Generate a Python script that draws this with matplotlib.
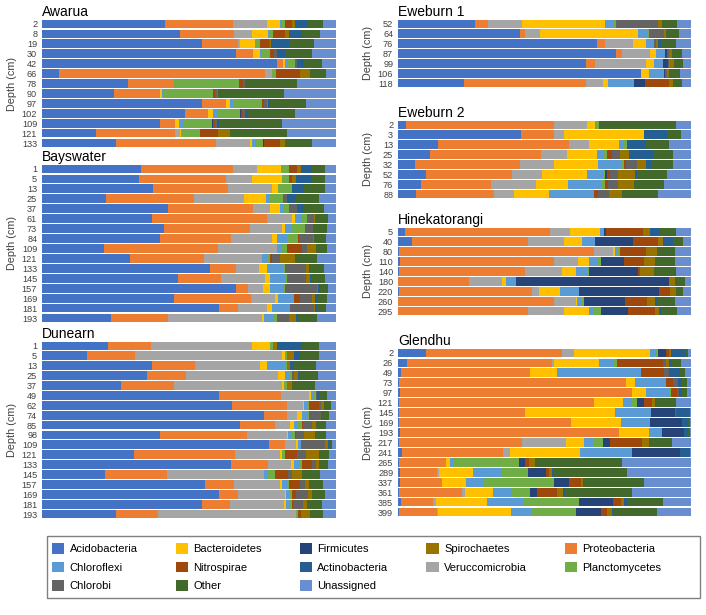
import matplotlib

matplotlib.use("Agg")

import matplotlib.pyplot as plt
import numpy as np
from matplotlib.patches import Patch, Rectangle

plt.rcParams["font.family"] = ["Liberation Sans", "DejaVu Sans"]

# stacking order inside every bar
TAXA = ["Acidobacteria", "Proteobacteria", "Veruccomicrobia", "Bacteroidetes",
        "Chloroflexi", "Planctomycetes", "Firmicutes", "Nitrospirae", "Chlorobi",
        "Spirochaetes", "Actinobacteria", "Other", "Unassigned"]
COLORS = {
    "Acidobacteria": "#4472C4", "Proteobacteria": "#ED7D31", "Veruccomicrobia": "#A5A5A5",
    "Bacteroidetes": "#FFC000", "Chloroflexi": "#5B9BD5", "Planctomycetes": "#70AD47",
    "Firmicutes": "#264478", "Nitrospirae": "#9E480E", "Chlorobi": "#636363",
    "Spirochaetes": "#997300", "Actinobacteria": "#255E91", "Other": "#43682B",
    "Unassigned": "#698ED0",
}
# legend reading order (row by row in a 5-column box)
LEGEND_ORDER = ["Acidobacteria", "Chloroflexi", "Chlorobi", "Bacteroidetes", "Nitrospirae",
                "Other", "Firmicutes", "Actinobacteria", "Unassigned", "Spirochaetes",
                "Veruccomicrobia", "Proteobacteria", "Planctomycetes"]

awarua_depths = [2, 8, 19, 30, 42, 66, 78, 90, 97, 102, 109, 121, 133]
awarua = [
    [41.9, 23.2, 11.6, 4.2, 0.6, 1.3, 0, 2.1, 0, 1.1, 4.2, 5.3, 4.5],
    [47.0, 18.2, 6.3, 5.3, 0.3, 1.5, 0, 4.2, 0, 1.2, 4.5, 6.0, 5.5],
    [54.4, 12.3, 0.6, 5.0, 0, 2.0, 0, 2.9, 0.5, 0.3, 6.0, 8.5, 7.5],
    [66.1, 5.7, 0, 2.2, 0.8, 2.9, 0, 1.2, 0.9, 0, 3.0, 8.9, 8.3],
    [79.8, 2.2, 0, 0.8, 0.8, 2.3, 0, 0, 0.9, 0, 2.3, 6.0, 4.9],
    [5.7, 70.0, 2.4, 0, 0, 1.4, 0, 8.1, 0, 3.5, 0, 5.6, 3.3],
    [29.1, 15.9, 0, 0, 0, 21.9, 0, 1.5, 0.8, 0, 0, 17.6, 13.2],
    [24.5, 15.7, 0, 0.6, 0.3, 16.9, 0, 1.0, 0.5, 0.4, 0, 22.5, 17.6],
    [54.4, 8.3, 0, 1.4, 1.1, 9.7, 0, 0.6, 1.1, 0.4, 0.6, 12.3, 10.2],
    [48.5, 8.1, 0, 1.6, 1.8, 7.5, 0.3, 0.6, 0.8, 0, 0.7, 16.1, 14.0],
    [40.2, 5.0, 0, 1.5, 1.5, 9.6, 0.3, 0.8, 0.6, 0, 0.7, 21.3, 18.5],
    [18.4, 26.9, 1.7, 0.3, 0.3, 5.9, 0.3, 5.8, 0, 4.3, 0, 19.1, 16.8],
    [25.1, 34.0, 11.5, 0.7, 1.3, 2.6, 0.2, 5.7, 0, 1.4, 0, 9.2, 8.3],
]

bayswater_depths = [1, 5, 13, 25, 37, 61, 73, 84, 109, 121, 133, 145, 157, 169, 181, 193]
bayswater = [
    [33.8, 31.3, 7.9, 8.3, 0, 2.6, 0, 2.9, 0, 1.4, 3.7, 4.2, 3.9],
    [33.1, 29.4, 8.8, 10.5, 0, 2.3, 0, 1.0, 0, 1.2, 5.6, 4.2, 3.9],
    [37.6, 25.8, 14.7, 2.1, 0, 4.8, 0, 0, 0, 0, 4.0, 7.1, 3.9],
    [21.8, 29.8, 17.0, 7.7, 1.4, 4.3, 0, 0, 1.5, 0, 2.9, 7.8, 5.8],
    [42.7, 29.1, 5.6, 3.7, 1.3, 1.7, 0, 0, 2.5, 0, 2.4, 6.8, 4.2],
    [37.5, 39.1, 8.5, 1.0, 2.4, 1.5, 0, 0, 2.5, 0.2, 0, 4.6, 2.7],
    [41.6, 29.3, 10.9, 1.0, 2.1, 4.4, 0, 0, 2.9, 0, 0, 4.6, 3.2],
    [40.2, 24.2, 13.7, 1.7, 3.4, 3.8, 0, 0.4, 4.8, 0.3, 0, 4.0, 3.5],
    [21.1, 38.6, 20.1, 0.3, 1.6, 1.8, 0, 5.0, 1.8, 2.8, 0, 3.7, 3.2],
    [30.0, 25.2, 19.7, 0, 1.9, 0.7, 0, 0.6, 3.0, 4.8, 0, 7.5, 6.6],
    [57.3, 8.7, 7.8, 2.8, 5.8, 0.3, 0, 0, 7.2, 1.0, 0.4, 4.6, 4.1],
    [46.4, 14.4, 15.2, 1.7, 5.3, 0.3, 0, 0, 6.6, 1.2, 0.5, 4.5, 3.9],
    [66.1, 3.9, 5.1, 2.4, 4.9, 0.2, 0.2, 0, 10.6, 0.5, 0.7, 2.7, 2.7],
    [45.0, 25.9, 8.2, 1.1, 5.0, 0.3, 0, 2.2, 4.2, 0.7, 0.7, 3.4, 3.2],
    [59.9, 6.6, 9.5, 2.0, 5.8, 0.3, 0, 0, 7.9, 0.5, 0.7, 2.8, 3.5],
    [23.5, 19.3, 31.9, 0.9, 3.3, 1.1, 0, 0, 4.1, 2.4, 0.3, 6.8, 6.4],
]

dunearn_depths = [1, 5, 13, 25, 37, 49, 62, 74, 85, 98, 109, 121, 133, 145, 157, 169, 181, 193]
dunearn = [
    [22.4, 14.8, 34.1, 6.4, 0, 0.9, 0, 0, 0, 1.4, 8.5, 5.8, 5.7],
    [15.2, 16.5, 49.8, 1.3, 0, 0.6, 0, 0, 0, 2.3, 2.1, 6.3, 5.9],
    [37.5, 14.7, 22.1, 2.3, 6.5, 0.3, 0, 0, 0, 0.9, 1.4, 7.4, 6.9],
    [35.7, 13.2, 31.3, 2.6, 1.7, 0.6, 0, 0, 0.6, 1.3, 0.5, 6.5, 6.0],
    [27.0, 18.0, 36.8, 0.6, 0, 1.0, 0, 0, 0, 1.7, 0, 7.6, 7.3],
    [60.3, 21.0, 9.4, 0.7, 1.2, 0.7, 0, 0, 0.3, 0, 0.6, 2.8, 3.0],
    [64.7, 18.8, 5.3, 0.4, 1.1, 0.6, 0, 3.2, 0.9, 0.9, 0, 2.3, 1.8],
    [75.5, 7.9, 3.5, 1.6, 2.0, 0.3, 0, 0, 4.0, 0, 0.2, 2.6, 2.4],
    [67.3, 11.9, 5.1, 1.4, 1.5, 1.3, 0, 0.2, 3.2, 1.2, 0, 3.6, 3.3],
    [40.0, 29.8, 13.4, 0.5, 1.4, 0.8, 0, 0.4, 2.9, 3.5, 0, 3.8, 3.5],
    [77.2, 5.4, 3.9, 0.6, 1.1, 0, 0, 0, 7.9, 1.3, 0.2, 1.2, 1.2],
    [31.4, 34.2, 15.5, 0.5, 0, 1.0, 0, 4.2, 2.9, 4.5, 0, 3.4, 2.4],
    [64.3, 12.6, 7.9, 1.0, 1.8, 0.9, 0, 3.4, 1.2, 1.1, 0, 3.2, 2.6],
    [21.3, 21.2, 33.1, 0, 1.2, 2.3, 0, 4.7, 1.3, 3.4, 0, 5.9, 5.6],
    [55.5, 9.8, 15.8, 0.7, 1.4, 0.9, 0, 3.6, 1.6, 1.5, 0, 4.8, 4.4],
    [60.3, 6.4, 15.9, 0.5, 1.2, 0.6, 0, 1.5, 4.1, 1.5, 0, 4.1, 3.9],
    [54.5, 9.4, 18.4, 0.6, 1.4, 0.6, 0, 0.5, 3.5, 1.3, 0, 4.9, 4.9],
    [25.1, 14.3, 47.0, 0, 0, 0.8, 0, 0.8, 0, 3.1, 0, 4.6, 4.3],
]

eweburn1_depths = [52, 64, 76, 87, 99, 106, 118]
eweburn1 = [
    [26.4, 4.2, 11.8, 28.4, 3.0, 0.7, 0, 0, 14.4, 1.1, 0, 5.3, 4.7],
    [41.7, 1.6, 5.0, 33.6, 3.4, 0.2, 0, 0, 5.3, 0.7, 0, 4.5, 4.0],
    [67.8, 2.9, 9.4, 4.6, 2.5, 0.3, 0, 0, 0.6, 0.8, 0.9, 5.0, 5.2],
    [74.4, 1.9, 9.7, 2.1, 2.9, 0, 0.7, 0, 0.8, 0.9, 0.2, 3.2, 3.2],
    [64.2, 3.0, 17.5, 2.7, 3.2, 0, 1.7, 0, 0.3, 1.6, 0, 3.2, 2.6],
    [83.0, 0, 0, 2.8, 5.0, 0, 0.3, 0, 0.8, 0.6, 0, 3.8, 3.7],
    [22.6, 41.4, 6.1, 1.6, 9.0, 0, 3.6, 8.1, 0, 1.6, 0, 3.0, 3.0],
]

eweburn2_depths = [2, 3, 13, 25, 32, 52, 76, 88]
eweburn2 = [
    [2.8, 50.5, 11.1, 2.9, 0, 1.2, 0, 0, 0, 0, 0.6, 25.7, 5.2],
    [42.0, 11.2, 3.5, 27.3, 0, 0, 0, 0, 0, 0, 7.7, 4.8, 3.5],
    [13.8, 44.5, 7.0, 10.0, 1.5, 1.3, 0, 0, 0, 0, 6.6, 7.8, 7.5],
    [10.8, 38.1, 8.9, 10.0, 2.3, 1.2, 0, 1.7, 2.6, 3.2, 8.1, 7.1, 6.0],
    [5.9, 35.6, 11.8, 14.8, 8.4, 0.5, 0, 0.7, 3.8, 3.0, 1.9, 7.6, 6.0],
    [9.4, 29.6, 10.3, 15.1, 5.5, 0.8, 0.8, 0.7, 2.8, 5.9, 0.8, 10.0, 8.3],
    [8.0, 23.8, 15.4, 10.9, 11.2, 1.4, 0, 0.9, 3.4, 5.6, 0, 10.3, 9.1],
    [6.1, 26.6, 7.0, 11.8, 15.5, 0, 0, 1.2, 3.7, 4.7, 0, 12.0, 11.4],
]

hinekatorangi_depths = [5, 40, 80, 110, 140, 180, 220, 260, 295]
hinekatorangi = [
    [2.5, 49.4, 6.7, 10.4, 0.8, 0.5, 0.6, 12.6, 0, 2.5, 3.4, 5.4, 5.2],
    [4.7, 39.5, 12.3, 6.3, 4.4, 0.2, 12.9, 8.5, 0, 1.5, 3.7, 3.2, 2.8],
    [0.3, 66.6, 6.5, 0.8, 0.5, 0.9, 0.3, 8.8, 0, 3.6, 0, 6.2, 5.5],
    [0.6, 52.5, 8.5, 3.7, 2.9, 1.2, 7.8, 6.6, 0, 3.9, 0, 6.8, 5.5],
    [0.2, 43.2, 12.7, 4.7, 3.9, 0.6, 16.7, 0.6, 0, 4.9, 0, 7.4, 5.1],
    [0.1, 24.3, 11.2, 1.1, 3.5, 0, 52.3, 0, 0, 2.2, 0, 3.3, 2.0],
    [0.5, 45.3, 2.3, 7.2, 6.4, 0.2, 27.1, 3.8, 0, 2.1, 0, 2.5, 2.6],
    [0.1, 53.0, 7.7, 0.4, 1.3, 1.1, 14.0, 7.3, 0, 2.8, 1.2, 5.6, 5.5],
    [0.1, 44.2, 12.5, 8.4, 1.6, 2.4, 9.4, 9.1, 0, 1.3, 0.9, 5.2, 4.9],
]

glendhu_depths = [2, 26, 49, 73, 97, 121, 145, 169, 193, 217, 241, 265, 289, 337, 361, 385, 399]
glendhu = [
    [9.5, 46.6, 4.1, 25.7, 1.9, 0.8, 2.7, 1.3, 0, 0.5, 4.7, 1.1, 1.1],
    [3.2, 49.2, 1.0, 15.2, 5.0, 1.2, 0, 15.5, 1.1, 1.2, 0.6, 3.5, 3.3],
    [1.0, 44.1, 0, 9.1, 28.8, 0, 0, 7.8, 1.6, 0, 3.9, 1.8, 1.9],
    [0.5, 77.2, 0, 3.1, 10.7, 0, 0, 2.3, 1.9, 0, 1.1, 1.7, 1.5],
    [0.6, 79.2, 0, 4.9, 8.1, 0.3, 0, 2.2, 0.6, 0, 0.9, 1.7, 1.5],
    [0.2, 66.8, 0, 9.9, 2.6, 2.2, 2.2, 2.7, 0, 1.1, 0.5, 6.6, 5.2],
    [0.5, 42.9, 0, 30.8, 12.3, 0, 8.0, 0, 0.5, 0, 4.4, 0.3, 0.3],
    [0.5, 58.4, 0, 17.1, 9.9, 0, 11.1, 0, 0, 0, 2.1, 0.4, 0.5],
    [0.6, 74.9, 0, 10.1, 4.4, 0, 7.6, 0, 0, 0, 1.5, 0.4, 0.5],
    [0.2, 42.2, 15.0, 6.1, 2.9, 3.7, 2.2, 11.0, 0, 2.4, 0.3, 7.4, 6.6],
    [1.5, 34.4, 2.4, 23.9, 17.2, 0.4, 16.5, 0, 0, 0, 3.4, 0, 0.3],
    [0.2, 16.1, 0, 1.5, 1.1, 22.4, 1.9, 1.6, 0, 2.0, 0, 29.7, 23.5],
    [0.8, 12.6, 0.6, 11.5, 9.7, 9.1, 6.3, 0.9, 0, 0.9, 0.5, 25.3, 21.8],
    [0.7, 14.2, 0, 8.2, 6.2, 24.1, 5.1, 3.8, 0, 1.0, 0.3, 20.3, 16.1],
    [0.2, 21.6, 0.9, 9.8, 6.3, 6.2, 2.6, 6.8, 0, 1.9, 0.7, 22.8, 20.2],
    [1.0, 10.8, 1.0, 17.5, 12.2, 19.3, 11.7, 2.5, 0, 1.2, 0.9, 12.5, 9.4],
    [0.5, 12.9, 0.3, 24.9, 6.9, 15.3, 8.4, 2.1, 0, 1.7, 0.3, 15.0, 11.7],
]

W, H = 706, 615
fig = plt.figure(figsize=(W / 100, H / 100), dpi=100)


def add_panel(box, title, depths, rows):
    left, top, right, bottom = box
    ax = fig.add_axes([left / W, 1 - bottom / H, (right - left) / W, (bottom - top) / H])
    shares = np.array(rows, dtype=float)
    shares = shares / shares.sum(axis=1, keepdims=True) * 100
    y = np.arange(len(depths))
    start = np.zeros(len(depths))
    for i, taxon in enumerate(TAXA):
        ax.barh(y, shares[:, i], left=start, height=0.88, color=COLORS[taxon], linewidth=0)
        start += shares[:, i]
    ax.set_xlim(0, 100)
    ax.set_ylim(len(depths) - 0.5, -0.5)
    ax.set_yticks(y, [str(d) for d in depths])
    ax.set_xticks([])
    ax.tick_params(axis="y", length=0, pad=3.5, labelsize=6.6, labelcolor="#404040")
    for spine in ax.spines.values():
        spine.set_visible(False)
    ax.set_title(title, loc="left", fontsize=10, pad=2)
    ax.set_ylabel("Depth (cm)", fontsize=7.8, color="#404040")
    ax.yaxis.set_label_coords(-0.085, 0.5)
    return ax


add_panel((42, 19, 336, 148), "Awarua", awarua_depths, awarua)
add_panel((42, 164, 336, 323), "Bayswater", bayswater_depths, bayswater)
add_panel((42, 341, 336, 519), "Dunearn", dunearn_depths, dunearn)
add_panel((398, 19, 691, 88), "Eweburn 1", eweburn1_depths, eweburn1)
add_panel((398, 120, 691, 199), "Eweburn 2", eweburn2_depths, eweburn2)
add_panel((398, 227, 691, 316), "Hinekatorangi", hinekatorangi_depths, hinekatorangi)
add_panel((398, 348, 691, 517), "Glendhu", glendhu_depths, glendhu)

# legend box frame, entries laid out inside it
fig.patches.append(Rectangle((47 / W, 1 - 598 / H), 653 / W, 62 / H, transform=fig.transFigure,
                             fill=False, edgecolor="#808080", linewidth=1.0))
handles = [Patch(facecolor=COLORS[t], edgecolor="none", label=t) for t in LEGEND_ORDER]
fig.legend(
    handles=handles, ncol=5, loc="upper left",
    bbox_to_anchor=(52 / W, 1 - 543 / H),
    fontsize=8, frameon=False,
    handlelength=1.1, handleheight=1.1, handletextpad=0.5,
    labelspacing=0.68, columnspacing=3.4, borderpad=0, borderaxespad=0,
)

fig.savefig("out.png", dpi=100)
